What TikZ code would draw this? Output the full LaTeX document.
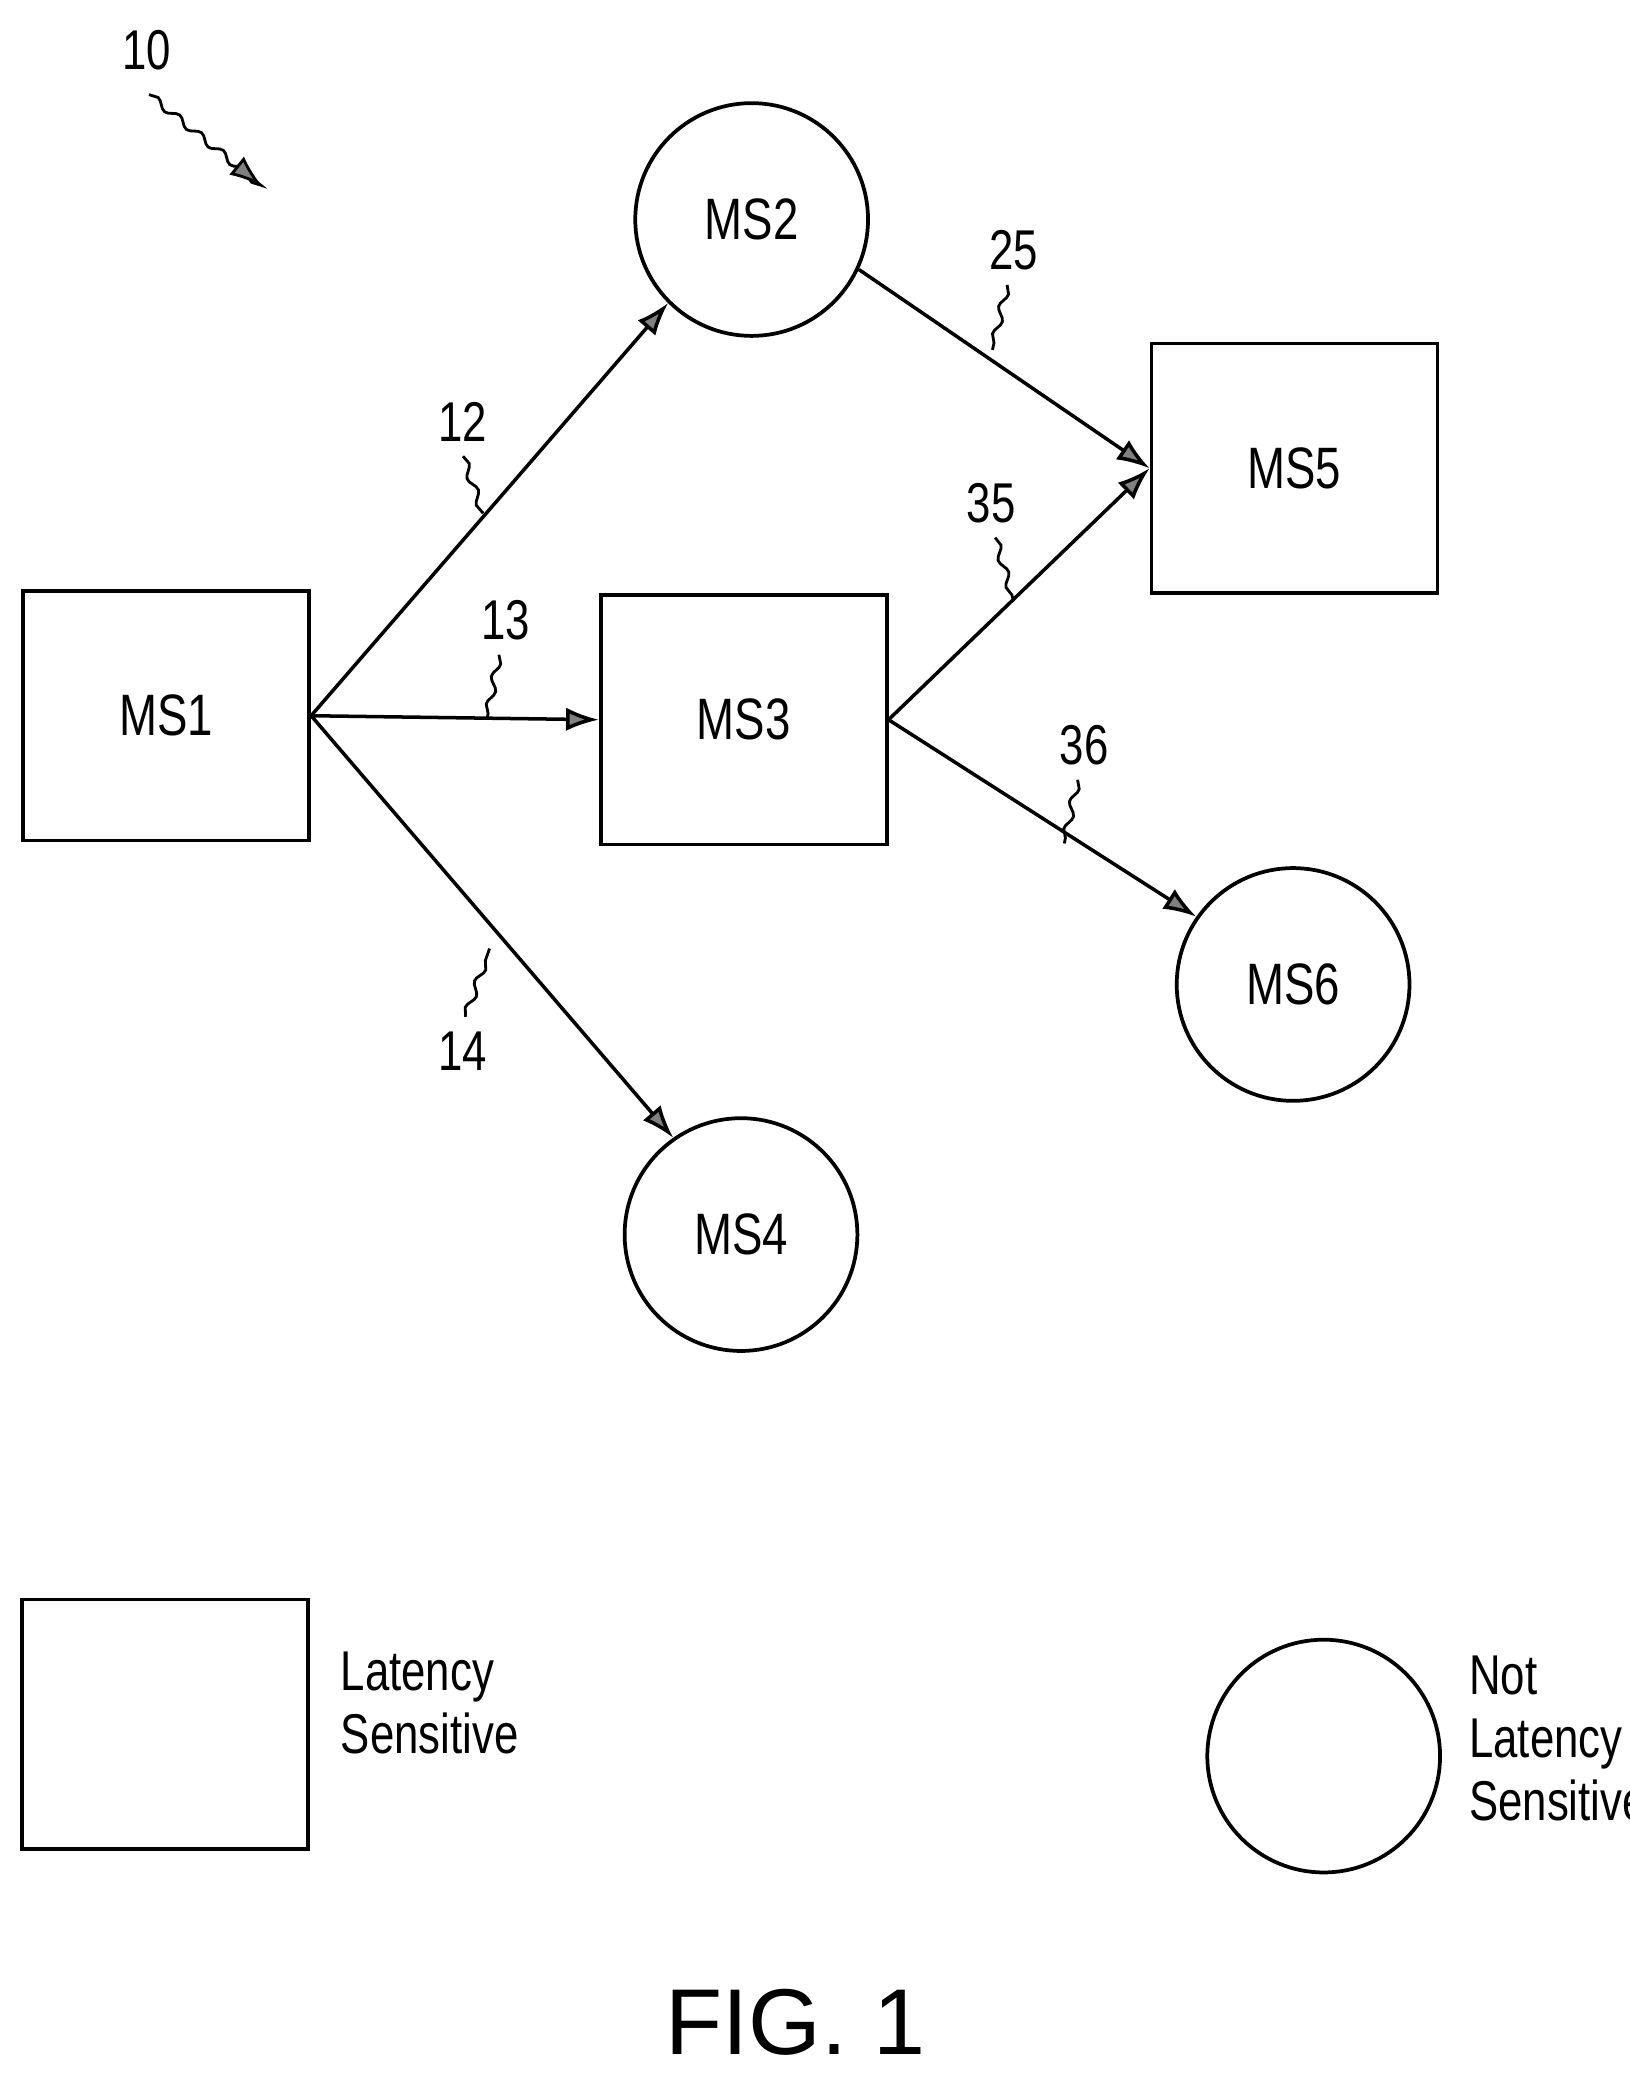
\documentclass[tikz,border=0pt]{standalone}
\usepackage{fontspec}
\setmainfont{Liberation Sans}[FakeStretch=0.78]
\newfontfamily\figfont{Liberation Sans}
\usetikzlibrary{arrows.meta,decorations.pathmorphing}
\tikzset{
  ms box/.style={draw, line width=1.6pt, minimum width=4.3cm, minimum height=3.75cm, font=\fontsize{25}{28}\selectfont},
  ms circ/.style={draw, circle, line width=1.6pt, minimum size=3.5cm, font=\fontsize{25}{28}\selectfont},
  flow/.style={line width=1.5pt, -{Latex[length=14pt,width=10pt,fill=gray]}},
  ref/.style={font=\fontsize{24}{27}\selectfont},
  lead/.style={line width=1.2pt, decorate, decoration={snake, amplitude=1.5pt, segment length=12pt}}
}
\begin{document}
\begin{tikzpicture}[x=0.02cm,y=-0.02cm]
  \useasboundingbox (0,0) rectangle (1225,1562);
  % services
  \node[ms box] (ms1) at (125,538) {MS1};
  \node[ms circ] (ms2) at (565,165) {MS2};
  \node[ms box] (ms3) at (559,541) {MS3};
  \node[ms circ] (ms4) at (557,928) {MS4};
  \node[ms box] (ms5) at (973,352) {MS5};
  \node[ms circ] (ms6) at (972,740) {MS6};
  % calls
  \draw[flow] (ms1.east) -- (ms2.225);
  \draw[flow] (ms1.east) -- (ms3.west);
  \draw[flow] (ms1.east) -- (ms4.125);
  \draw[flow] (ms2.-25) -- (ms5.west);
  \draw[flow] (ms3.east) -- (ms5.west);
  \draw[flow] (ms3.east) -- (ms6.145);
  % reference numerals
  \node[ref] (n10) at (110,38) {10};
  \coordinate (t10) at (197,140);
  \draw[lead, -{Latex[length=14pt,width=10pt,fill=gray]}] (n10.south) ++(2,12) coordinate (s10) (s10) -- (t10);
  \node[ref] (n12) at (348,317) {12};
  \coordinate (c12) at (363,386);
  \draw[lead] (n12.south) ++(0,5) -- (c12);
  \node[ref] (n13) at (380,466) {13};
  \coordinate (c13) at (366,541);
  \draw[lead] (n13.south) ++(-5,5) -- (c13);
  \node[ref] (n14) at (348,790) {14};
  \coordinate (c14) at (368,713);
  \draw[lead] (n14.north) ++(2,-5) -- (c14);
  \node[ref] (n25) at (762,188) {25};
  \coordinate (c25) at (746,263);
  \draw[lead] (n25.south) ++(-5,5) -- (c25);
  \node[ref] (n35) at (745,378) {35};
  \coordinate (c35) at (762,452);
  \draw[lead] (n35.south) ++(3,5) -- (c35);
  \node[ref] (n36) at (815,560) {36};
  \coordinate (c36) at (800,634);
  \draw[lead] (n36.south) ++(-5,5) -- (c36);
  % legend
  \node[ms box] (lsbox) at (124,1296) {};
  \node[ms circ] (nlcirc) at (995,1320) {};
  \node[ref, anchor=west, align=left] (lstxt) at (250,1280) {Latency\\Sensitive};
  \node[ref, anchor=west, align=left, inner xsep=0pt] (nltxt) at (1104,1307) {Not\\Latency\\Sensitive};
  \node[font=\figfont\fontsize{40}{46}\selectfont] (fig) at (598,1520) {FIG. 1};
\end{tikzpicture}
\end{document}
